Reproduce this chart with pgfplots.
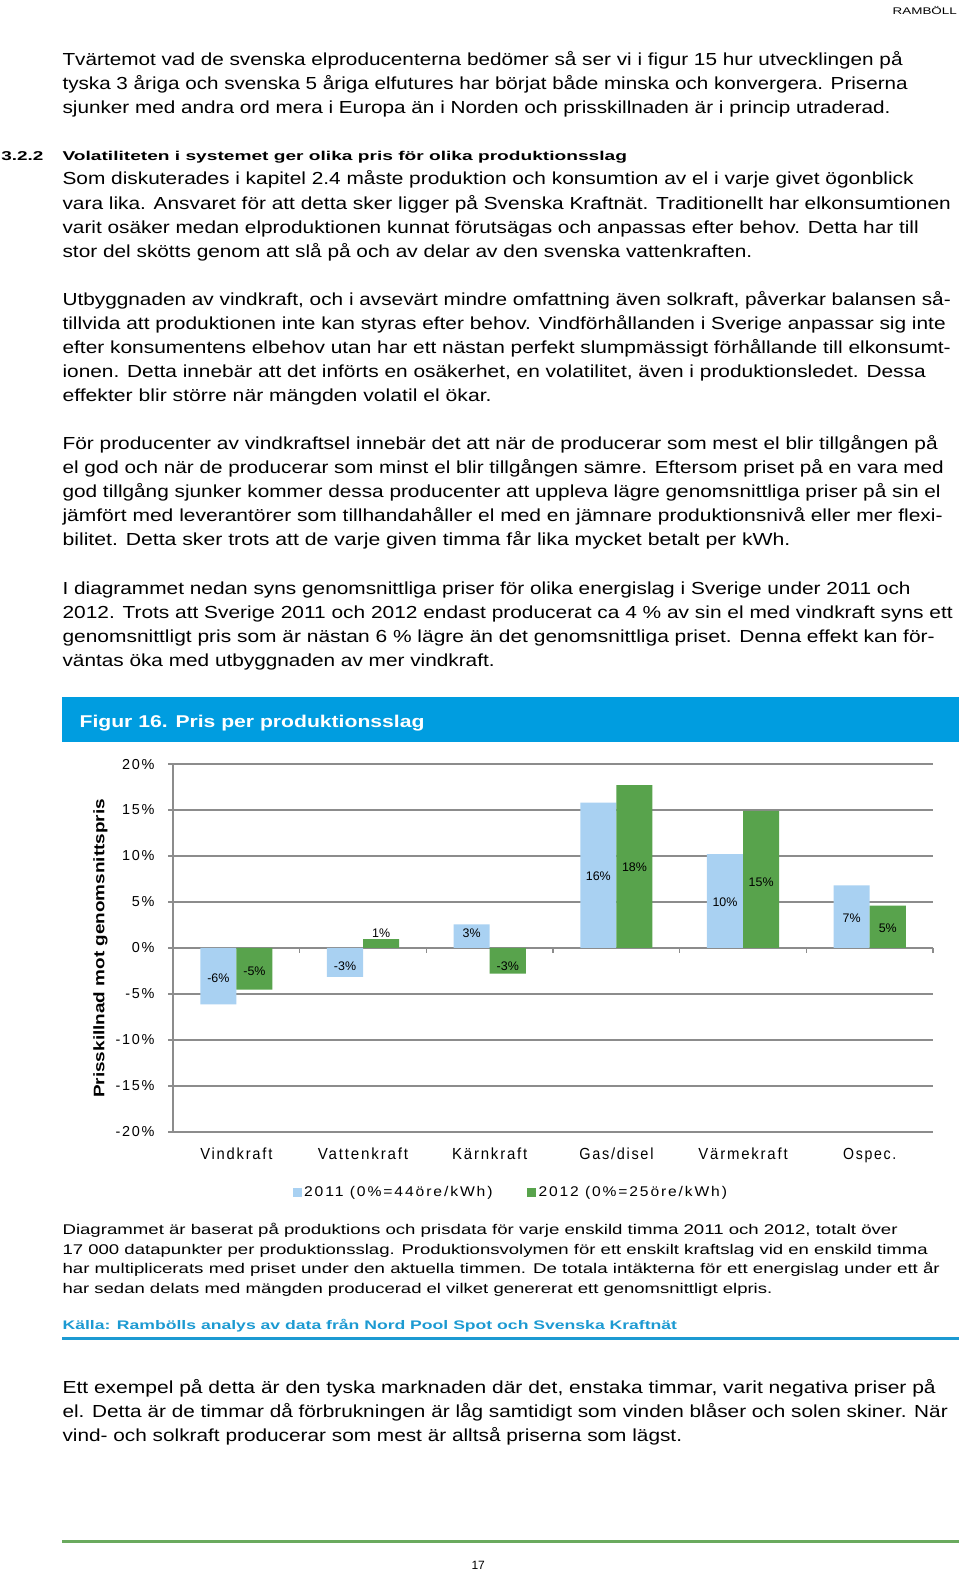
\documentclass[border=0pt]{standalone}
\usepackage{fontspec}
\setmainfont{Liberation Sans}
\usepackage{graphicx}
\usepackage{pgfplots}
\usepackage{pgfplotstable}
\pgfplotsset{compat=1.18}
\newfontfamily\lsfont[LetterSpace=12]{Liberation Sans}
\definecolor{titleblue}{RGB}{0,157,224}
\definecolor{barA}{RGB}{169,209,242}
\definecolor{barB}{RGB}{88,163,76}
\definecolor{gridgray}{RGB}{140,140,140}
\definecolor{srcblue}{RGB}{28,154,210}
\definecolor{footgreen}{RGB}{106,170,94}
\newsavebox\fitbox
\newdimen\fitw
\newcommand\fitline[2]{\sbox\fitbox{#2}\fitw=\wd\fitbox\pgfmathsetmacro\fitsx{((#1)*0.5)/\fitw}\scalebox{\fitsx}[1]{\usebox\fitbox}}
\newcommand\B[3]{\node[anchor=base west,inner sep=0pt,font=\fontsize{8.7}{10}\selectfont] at (62,#1) {\fitline{#2-62}{#3}};}
\newcommand\C[3]{\node[anchor=base west,inner sep=0pt,font=\fontsize{7}{8}\selectfont] at (62,#1) {\fitline{#2-62}{#3}};}
\pgfplotstableread{
x y11 y12 p11 p12 l11 l12
0 -6.13 -4.53 -2.97 -2.21 -6 -5
1 -3.15 0.95 -1.66 1.93 -3 1
2 2.55 -2.79 1.93 -1.66 3 -3
3 15.8 17.7 8.13 9.11 16 18
4 10.2 14.9 5.35 7.5 10 15
5 6.8 4.6 3.56 2.47 7 5
}\pricedata
\begin{document}
\begin{tikzpicture}
\begin{scope}[x=0.5pt,y=-0.5pt]
\path[use as bounding box,fill=white] (0,0) rectangle (958,1568);
\node[anchor=base west,inner sep=0pt,font=\fontsize{4.8}{6}\selectfont] at (890,14) {\fitline{954-890}{RAMBÖLL}};
\B{65}{900}{Tvärtemot vad de svenska elproducenterna bedömer så ser vi i figur 15 hur utvecklingen på}
\B{89}{905}{tyska 3 åriga och svenska 5 åriga elfutures har börjat både minska och konvergera. Priserna}
\B{113}{888}{sjunker med andra ord mera i Europa än i Norden och prisskillnaden är i princip utraderad.}
\node[anchor=base west,inner sep=0pt,font=\fontsize{6.4}{7}\selectfont\bfseries] at (1,160) {\fitline{43-1}{3.2.2}};
\node[anchor=base west,inner sep=0pt,font=\fontsize{6.4}{7}\selectfont\bfseries] at (62,160) {\fitline{625-62}{Volatiliteten i systemet ger olika pris för olika produktionsslag}};
\B{184.5}{911}{Som diskuterades i kapitel 2.4 måste produktion och konsumtion av el i varje givet ögonblick}
\B{208.5}{948}{vara lika. Ansvaret för att detta sker ligger på Svenska Kraftnät. Traditionellt har elkonsumtionen}
\B{232.5}{916}{varit osäker medan elproduktionen kunnat förutsägas och anpassas efter behov. Detta har till}
\B{256.5}{750}{stor del skötts genom att slå på och av delar av den svenska vattenkraften.}
\B{304.5}{948}{Utbyggnaden av vindkraft, och i avsevärt mindre omfattning även solkraft, påverkar balansen så-}
\B{328.5}{943}{tillvida att produktionen inte kan styras efter behov. Vindförhållanden i Sverige anpassar sig inte}
\B{352.5}{948}{efter konsumentens elbehov utan har ett nästan perfekt slumpmässigt förhållande till elkonsumt-}
\B{376.5}{923}{ionen. Detta innebär att det införts en osäkerhet, en volatilitet, även i produktionsledet. Dessa}
\B{400.5}{490}{effekter blir större när mängden volatil el ökar.}
\B{448.5}{935}{För producenter av vindkraftsel innebär det att när de producerar som mest el blir tillgången på}
\B{472.5}{941}{el god och när de producerar som minst el blir tillgången sämre. Eftersom priset på en vara med}
\B{496.5}{938}{god tillgång sjunker kommer dessa producenter att uppleva lägre genomsnittliga priser på sin el}
\B{520.5}{940}{jämfört med leverantörer som tillhandahåller el med en jämnare produktionsnivå eller mer flexi-}
\B{544.5}{788}{bilitet. Detta sker trots att de varje given timma får lika mycket betalt per kWh.}
\B{592.5}{908}{I diagrammet nedan syns genomsnittliga priser för olika energislag i Sverige under 2011 och}
\B{616.5}{950}{2012. Trots att Sverige 2011 och 2012 endast producerat ca 4 \% av sin el med vindkraft syns ett}
\B{640.5}{932}{genomsnittligt pris som är nästan 6 \% lägre än det genomsnittliga priset. Denna effekt kan för-}
\B{664.5}{493}{väntas öka med utbyggnaden av mer vindkraft.}
\fill[titleblue] (62,695) rectangle (957,740);
\node[anchor=base west,inner sep=0pt,text=white,font=\fontsize{8.5}{10}\selectfont\bfseries] at (79,726) {\fitline{423-79}{Figur 16. Pris per produktionsslag}};
\node[rotate=90,anchor=base,inner sep=0pt,font=\fontsize{7.6}{9}\selectfont\bfseries] at (104,946) {\fitline{298}{Prisskillnad mot genomsnittspris}};
\C{1231.5}{895}{Diagrammet är baserat på produktions och prisdata för varje enskild timma 2011 och 2012, totalt över}
\C{1251}{925}{17 000 datapunkter per produktionsslag. Produktionsvolymen för ett enskilt kraftslag vid en enskild timma}
\C{1270.5}{937}{har multiplicerats med priset under den aktuella timmen. De totala intäkterna för ett energislag under ett år}
\C{1290}{770}{har sedan delats med mängden producerad el vilket genererat ett genomsnittligt elpris.}
\node[anchor=base west,inner sep=0pt,text=srcblue,font=\fontsize{6.2}{7}\selectfont\bfseries] at (62,1326.5) {\fitline{675-62}{Källa: Rambölls analys av data från Nord Pool Spot och Svenska Kraftnät}};
\draw[srcblue,line width=1.1pt] (62,1335) -- (957,1335);
\B{1389.5}{933}{Ett exempel på detta är den tyska marknaden där det, enstaka timmar, varit negativa priser på}
\B{1413.5}{945}{el. Detta är de timmar då förbrukningen är låg samtidigt som vinden blåser och solen skiner. När}
\B{1437.5}{680}{vind- och solkraft producerar som mest är alltså priserna som lägst.}
\draw[footgreen,line width=1.5pt] (62,1538) -- (957,1538);
\node[anchor=base,inner sep=0pt,font=\fontsize{6}{7}\selectfont] at (477,1565) {17};
\end{scope}
\begin{axis}[
  at={(86.3pt,-564.45pt)}, anchor=south west,
  scale only axis, width=379.05pt, height=183.4pt,
  xmin=-0.5, xmax=5.5, ymin=-20, ymax=20,
  enlargelimits=false, clip=false,
  ybar=0pt, bar width=18pt,
  axis lines*=left,
  axis line style={gridgray,line width=0.75pt},
  ymajorgrids, grid style={gridgray,line width=0.75pt},
  ytick={-20,-15,...,20},
  yticklabels={-20\%,-15\%,-10\%,-5\%,0\%,5\%,10\%,15\%,20\%},
  ytick style={gridgray,line width=0.75pt},
  tick align=outside, major tick length=2.5pt,
  yticklabel style={font=\fontsize{7.2}{8}\lsfont,inner sep=0pt,anchor=east,xshift=-6.5pt},
  xtick={0,...,5},
  xticklabels={\fitline{72}{Vindkraft},\fitline{90}{Vattenkraft},\fitline{75}{Kärnkraft},\fitline{74}{Gas/disel},\fitline{89}{Värmekraft},\fitline{53}{Ospec.}},
  xtick style={draw=none},
  xticklabel style={font=\fontsize{8}{9}\lsfont,inner sep=0pt,anchor=base,yshift=-11.5pt},
  legend style={draw=none,fill=none,at={(0.149,-0.166)},anchor=west,legend columns=2,
    font=\fontsize{7}{8}\lsfont, nodes={inner sep=1.2pt},
    /tikz/every even column/.append style={column sep=16pt}},
  legend image code/.code={\fill[#1] (0pt,-2.25pt) rectangle (4.5pt,2.25pt);},
  nodes near coords={\pgfplotspointmeta\%},
  point meta=explicit symbolic,
]
\addplot[fill=barA,draw=none,
  visualization depends on={\thisrow{p11}-\thisrow{y11} \as \dy},
  every node near coord/.append style={anchor=center,yshift=\dy*4.585pt-1.5pt,font=\fontsize{6.2}{7}\selectfont,text=black}]
  table[x=x,y=y11,meta=l11]{\pricedata};
\addplot[fill=barB,draw=none,
  visualization depends on={\thisrow{p12}-\thisrow{y12} \as \dy},
  every node near coord/.append style={anchor=center,yshift=\dy*4.585pt-1.5pt,font=\fontsize{6.2}{7}\selectfont,text=black}]
  table[x=x,y=y12,meta=l12]{\pricedata};
\addlegendentry{\fitline{188}{2011 (0\%=44öre/kWh)}}
\addlegendentry{\fitline{188}{2012 (0\%=25öre/kWh)}}
\pgfplotsinvokeforeach{0.5,1.5,2.5,3.5,4.5,5.5}{\draw[gridgray,line width=0.75pt] (axis cs:#1,0) -- ++(0pt,-2.5pt);}
\end{axis}
\end{tikzpicture}
\end{document}
